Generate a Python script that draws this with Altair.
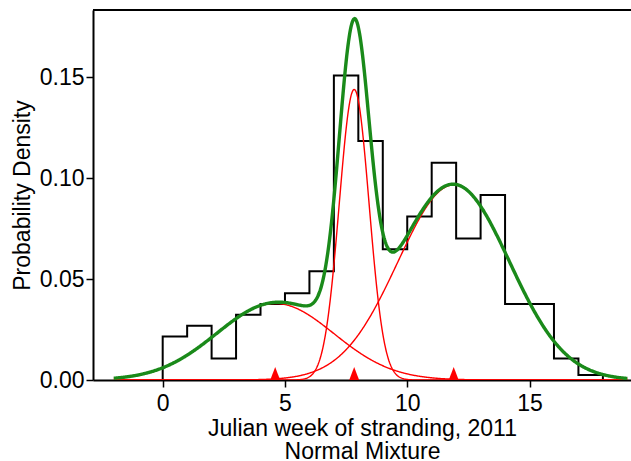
import altair as alt
import numpy as np
import pandas as pd

# Histogram (density per 1-week bin, bins start at 0)
bin_left = list(range(0, 18))
hist_density = [0.0216, 0.0269, 0.0106, 0.0323, 0.0376, 0.0429, 0.0539, 0.1508, 0.1183,
                0.0647, 0.0809, 0.1076, 0.0701, 0.0916, 0.0376, 0.0376, 0.0106, 0.0025]

# Normal mixture components
comp_mean = [4.6, 7.83, 11.9]
comp_sd = [2.4, 0.61, 2.28]
comp_weight = [0.228, 0.22, 0.552]

x_ticks = [0, 5, 10, 15]
y_ticks = [0.0, 0.05, 0.10, 0.15]

FONT = "Liberation Sans"
W, H = 538, 370
X_DOM = [-2.85, 19.15]
Y_DOM = [0, 0.1832]

# step outline of histogram
step_x = [bin_left[0]] + bin_left + [bin_left[-1] + 1, bin_left[-1] + 1]
step_y = [0.0] + hist_density + [hist_density[-1], 0.0]
hist_df = pd.DataFrame({"x": step_x, "y": step_y, "o": range(len(step_x))})

# component and mixture densities
grid = np.linspace(-2.0, 19.0, 841)
rows = []
mix = np.zeros_like(grid)
for k, (m, s, w) in enumerate(zip(comp_mean, comp_sd, comp_weight)):
    d = w * np.exp(-0.5 * ((grid - m) / s) ** 2) / (s * np.sqrt(2 * np.pi))
    mix += d
    rows.append(pd.DataFrame({"x": grid, "y": d, "comp": f"c{k}"}))
comp_df = pd.concat(rows, ignore_index=True)
mix_df = pd.DataFrame({"x": grid, "y": mix})
mean_df = pd.DataFrame({"x": comp_mean, "y": [0.0] * 3})

xs = alt.Scale(domain=X_DOM, nice=False, zero=False)
ys = alt.Scale(domain=Y_DOM, nice=False)

x_axis = alt.Axis(values=x_ticks, title=["Julian week of stranding, 2011", "Normal Mixture"],
                  grid=False, format="d")
y_axis = alt.Axis(values=y_ticks, title="Probability Density", grid=False, format=".2f")

hist = alt.Chart(hist_df).mark_line(interpolate="step-after", color="black", strokeWidth=2).encode(
    x=alt.X("x:Q", scale=xs, axis=x_axis),
    y=alt.Y("y:Q", scale=ys, axis=y_axis),
    order="o:Q",
)

comps = alt.Chart(comp_df).mark_line(color="#ff0000", strokeWidth=1.4, clip=True).encode(
    x=alt.X("x:Q", scale=xs),
    y=alt.Y("y:Q", scale=ys),
    detail="comp:N",
)

mixture = alt.Chart(mix_df).mark_line(color="#1a8a1a", strokeWidth=3.4, clip=True).encode(
    x=alt.X("x:Q", scale=xs),
    y=alt.Y("y:Q", scale=ys),
)

tri = alt.Chart(mean_df).mark_point(shape="M-0.76,1L0.76,1L0,-1Z", filled=True,
                                    color="#ff0000", size=169, opacity=1, yOffset=-6.5,
                                    strokeWidth=0).encode(
    x=alt.X("x:Q", scale=xs),
    y=alt.Y("y:Q", scale=ys),
)

top_line = alt.Chart(mean_df).mark_rule(color="black", strokeWidth=2).encode(
    x=alt.value(0), x2=alt.value(W), y=alt.value(0)
)

chart = alt.layer(hist, comps, mixture, tri, top_line).properties(
    width=W, height=H,
    autosize=alt.AutoSizeParams(type="none"),
    padding={"left": 93, "top": 10, "right": 0, "bottom": 81},
).configure_view(stroke=None).configure_axis(
    labelFont=FONT, titleFont=FONT, labelFontSize=23, titleFontSize=23,
    labelColor="black", titleColor="black", titleFontWeight="normal",
    domainColor="black", domainWidth=2, tickColor="black", tickWidth=1.5, tickSize=7,
).configure_axisX(labelPadding=5, titlePadding=2, titleLineHeight=23
).configure_axisY(labelPadding=2, titlePadding=5)

chart.save("out.html", embed_options={"renderer": "svg", "actions": False})
